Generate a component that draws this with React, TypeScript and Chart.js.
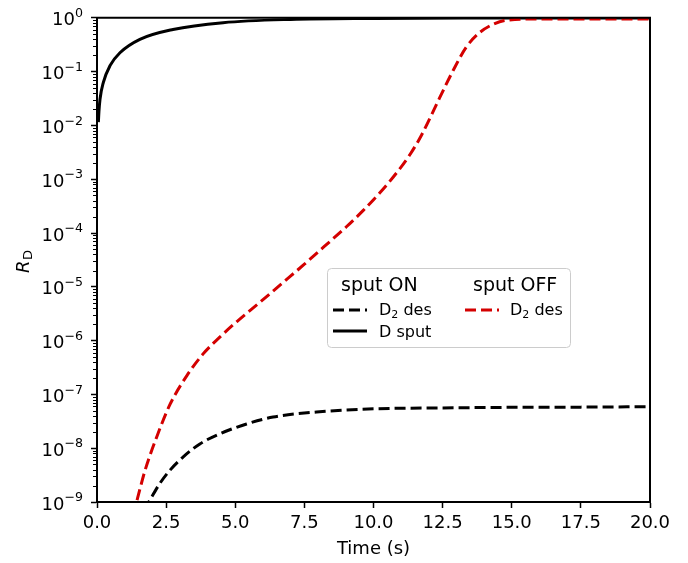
import React, { useEffect, useRef } from "react";
import { Chart, registerables } from "chart.js";

Chart.register(...registerables);

// ---- data ----
const timeSputOn = [0.05, 0.07, 0.11, 0.23, 0.47, 0.83, 1.55, 2.75, 4.56, 7.0, 10.0, 14.0, 20.0];
const rSputOn = [1.15e-2, 1.8e-2, 3.1e-2, 6.3e-2, 0.129, 0.224, 0.398, 0.608, 0.813, 0.933, 0.973, 0.989, 0.995];

const timeDesOn = [1.7, 1.92, 2.28, 2.64, 3.12, 3.72, 4.45, 5.41, 6.37, 7.94, 10.0, 12.5, 15.0, 17.5, 20.0];
const rDesOn = [7e-10, 1.1e-9, 2.24e-9, 3.9e-9, 6.9e-9, 1.2e-8, 1.86e-8, 2.82e-8, 3.8e-8, 4.7e-8, 5.4e-8, 5.6e-8, 5.75e-8, 5.8e-8, 5.9e-8];

const timeDesOff = [1.3, 1.43, 1.74, 2.16, 2.64, 3.24, 3.83, 4.45, 5.05, 5.9, 6.75, 7.5, 8.2, 9.03, 9.63, 10.23, 10.84, 11.32, 11.73, 12.39, 12.88, 13.36, 13.85, 14.33, 14.82, 16.3, 20.0];
const rDesOff = [5.6e-10, 1e-9, 3.9e-9, 1.62e-8, 6.5e-8, 2.19e-7, 5.6e-7, 1.17e-6, 2.24e-6, 5.2e-6, 1.23e-5, 2.63e-5, 5.5e-5, 1.32e-4, 2.63e-4, 5.6e-4, 1.32e-3, 2.88e-3, 6.5e-3, 3.24e-2, 0.105, 0.288, 0.537, 0.759, 0.902, 0.955, 0.955];

const xTickValues = [0, 2.5, 5, 7.5, 10, 12.5, 15, 17.5, 20];
const yDecadeExponents = [-9, -8, -7, -6, -5, -4, -3, -2, -1, 0];
const minorMultipliers = [2, 3, 4, 5, 6, 7, 8, 9];

const xLabel = "Time (s)";
const legendTitleOn = "sput ON";
const legendTitleOff = "sput OFF";

const RED = "#d40000";
const FONT = "'DejaVu Sans', 'Liberation Sans', sans-serif";

function pts(xs: number[], ys: number[]) {
  return xs.map((x, i) => ({ x, y: ys[i] }));
}

const extrasPlugin = {
  id: "extras",
  afterDraw(chart: any) {
    const ctx: CanvasRenderingContext2D = chart.ctx;
    const area = chart.chartArea;
    const yScale = chart.scales.y;
    ctx.save();
    // top & right spines
    ctx.strokeStyle = "#000";
    ctx.lineWidth = 2;
    ctx.beginPath();
    ctx.moveTo(area.left - 1, area.top);
    ctx.lineTo(area.right, area.top);
    ctx.lineTo(area.right, area.bottom + 1);
    ctx.stroke();

    // minor y ticks
    ctx.lineWidth = 1.2;
    ctx.beginPath();
    for (const e of yDecadeExponents) {
      if (e === 0) continue;
      for (const m of minorMultipliers) {
        const y = Math.round(yScale.getPixelForValue(m * Math.pow(10, e))) + 0.5;
        ctx.moveTo(area.left - 4, y);
        ctx.lineTo(area.left, y);
      }
    }
    ctx.stroke();

    // y tick labels 10^e with real superscripts
    ctx.fillStyle = "#000";
    ctx.textBaseline = "alphabetic";
    ctx.textAlign = "left";
    const rightEdge = area.left - 14;
    for (const e of yDecadeExponents) {
      const y = yScale.getPixelForValue(Math.pow(10, e));
      const exp = e < 0 ? "\u2212" + String(-e) : String(e);
      ctx.font = `18px ${FONT}`;
      const wBase = ctx.measureText("10").width;
      ctx.font = `12.6px ${FONT}`;
      const wExp = ctx.measureText(exp).width;
      const x0 = rightEdge - wBase - wExp;
      ctx.font = `18px ${FONT}`;
      ctx.fillText("10", x0, y + 7.5);
      ctx.font = `12.6px ${FONT}`;
      ctx.fillText(exp, x0 + wBase, y - 0.8);
    }

    // y-axis title R_D (rotated)
    ctx.save();
    ctx.translate(29, (area.top + area.bottom) / 2 + 13);
    ctx.rotate(-Math.PI / 2);
    ctx.fillStyle = "#000";
    ctx.textBaseline = "alphabetic";
    ctx.textAlign = "left";
    ctx.font = `italic 18px ${FONT}`;
    ctx.fillText("R", 0, 0);
    const rw = ctx.measureText("R").width;
    ctx.font = `13px ${FONT}`;
    ctx.fillText("D", rw + 0.5, 3);
    ctx.restore();

    // legend
    const bx = 327.5, by = 268.5, bw = 243, bh = 79;
    ctx.fillStyle = "rgba(255,255,255,0.85)";
    ctx.strokeStyle = "#cccccc";
    ctx.lineWidth = 1;
    ctx.beginPath();
    (ctx as any).roundRect ? (ctx as any).roundRect(bx, by, bw, bh, 4) : ctx.rect(bx, by, bw, bh);
    ctx.fill();
    ctx.stroke();

    ctx.fillStyle = "#000";
    ctx.textBaseline = "alphabetic";
    ctx.textAlign = "left";
    ctx.font = `19px ${FONT}`;
    ctx.fillText(legendTitleOn, 341, 291);
    ctx.fillText(legendTitleOff, 473, 291);

    const drawSample = (x0: number, x1: number, y: number, color: string, dash: number[]) => {
      ctx.save();
      ctx.strokeStyle = color;
      ctx.lineWidth = 3;
      ctx.setLineDash(dash);
      ctx.beginPath();
      ctx.moveTo(x0, y);
      ctx.lineTo(x1, y);
      ctx.stroke();
      ctx.restore();
    };
    const drawD2des = (x: number, y: number) => {
      ctx.fillStyle = "#000";
      ctx.font = `16px ${FONT}`;
      ctx.fillText("D", x, y);
      let w = ctx.measureText("D").width;
      ctx.font = `11px ${FONT}`;
      ctx.fillText("2", x + w, y + 3);
      w += ctx.measureText("2").width;
      ctx.font = `16px ${FONT}`;
      ctx.fillText(" des", x + w, y);
    };
    drawSample(333, 367, 310, "#000", [11, 5]);
    drawD2des(379, 315);
    drawSample(333, 367, 331, "#000", []);
    ctx.fillStyle = "#000";
    ctx.font = `16px ${FONT}`;
    ctx.fillText("D sput", 379, 337);
    drawSample(465, 499, 310, RED, [11, 5]);
    drawD2des(510, 315);

    ctx.restore();
  },
};

export default function App() {
  const canvasRef = useRef<HTMLCanvasElement | null>(null);

  useEffect(() => {
    document.body.style.margin = "0";
    document.body.style.overflow = "hidden";
    const canvas = canvasRef.current;
    if (!canvas) return;
    const chart = new Chart(canvas, {
      type: "line",
      data: {
        datasets: [
          {
            label: "D2 des (sput OFF)",
            data: pts(timeDesOff, rDesOff),
            borderColor: RED,
            borderWidth: 3,
            borderDash: [11, 5],
            pointRadius: 0,
            cubicInterpolationMode: "monotone",
            fill: false,
            order: 0,
          },
          {
            label: "D sput (sput ON)",
            data: pts(timeSputOn, rSputOn),
            borderColor: "#000",
            borderWidth: 3,
            pointRadius: 0,
            cubicInterpolationMode: "monotone",
            fill: false,
            order: 1,
          },
          {
            label: "D2 des (sput ON)",
            data: pts(timeDesOn, rDesOn),
            borderColor: "#000",
            borderWidth: 3,
            borderDash: [11, 5],
            pointRadius: 0,
            cubicInterpolationMode: "monotone",
            fill: false,
            order: 2,
          },
        ],
      },
      options: {
        responsive: false,
        animation: false,
        devicePixelRatio: 1,
        layout: { padding: { left: 0, right: 38, top: 15, bottom: 0 } },
        plugins: {
          legend: { display: false },
          tooltip: { enabled: false },
          title: { display: false },
        },
        scales: {
          x: {
            type: "linear",
            min: 0,
            max: 20,
            afterBuildTicks: (scale: any) => {
              scale.ticks = xTickValues.map((v) => ({ value: v }));
            },
            afterFit: (scale: any) => {
              scale.height = 61;
            },
            ticks: {
              autoSkip: false,
              maxRotation: 0,
              padding: 5,
              color: "#000",
              font: { family: FONT, size: 18 },
              callback: (v: any) => Number(v).toFixed(1),
            },
            grid: {
              drawOnChartArea: false,
              drawTicks: true,
              tickLength: 6,
              tickWidth: 1.5,
              tickColor: "#000",
              color: "#000",
            },
            border: { display: true, color: "#000", width: 2 },
            title: {
              display: true,
              text: xLabel,
              color: "#000",
              font: { family: FONT, size: 18 },
              padding: { top: 2, bottom: 3 },
            },
          },
          y: {
            type: "logarithmic",
            min: 1e-9,
            max: 1,
            afterBuildTicks: (scale: any) => {
              scale.ticks = yDecadeExponents.map((e) => ({ value: Math.pow(10, e), major: true }));
            },
            afterFit: (scale: any) => {
              scale.width = 97;
            },
            ticks: {
              autoSkip: false,
              padding: 7,
              color: "#000",
              font: { family: FONT, size: 18 },
              callback: () => "",
            },
            grid: {
              drawOnChartArea: false,
              drawTicks: true,
              tickLength: 6,
              tickWidth: 1.5,
              tickColor: "#000",
              color: "#000",
            },
            border: { display: true, color: "#000", width: 2 },
          },
        },
      },
      plugins: [extrasPlugin],
    } as any);
    return () => chart.destroy();
  }, []);

  return (
    <div style={{ width: 688, height: 563, background: "#fff" }}>
      <canvas ref={canvasRef} width={688} height={563} style={{ display: "block" }} />
    </div>
  );
}
